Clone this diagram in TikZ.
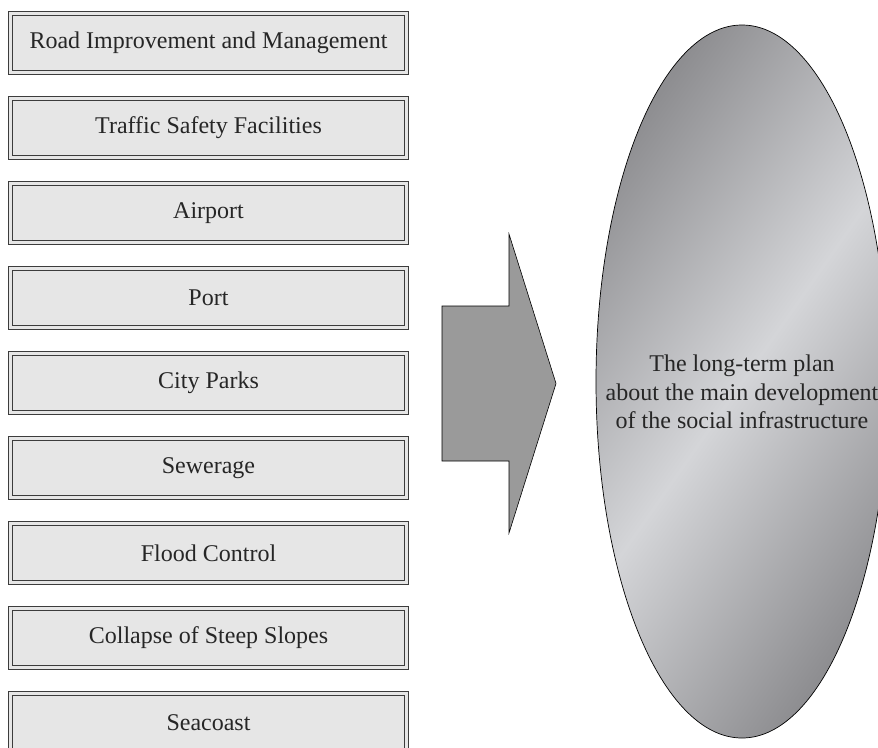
\documentclass[tikz,border=0pt]{standalone}
\usepackage{fontspec}
\setmainfont{Liberation Serif}
\usetikzlibrary{positioning,shapes.geometric}

\definecolor{boxfill}{HTML}{E6E6E6}
\definecolor{boxline}{HTML}{3C3C3C}
\definecolor{arrowgray}{HTML}{9A9A9A}
\definecolor{ovaldark}{HTML}{8E8E91}
\definecolor{ovallight}{HTML}{D4D5D8}
\definecolor{txtgray}{HTML}{262626}

\begin{document}
\begin{tikzpicture}[
    x=1pt, y=-1pt,
    node distance=26pt,
    every node/.style={font=\fontsize{24}{28.5}\selectfont, text=txtgray},
    item/.style={draw=boxline, line width=1pt, double=boxfill,
      double distance=3.5pt, fill=boxfill, minimum width=396pt,
      minimum height=59pt, inner sep=0pt, outer sep=0pt},
    plan/.style={ellipse, draw=black, line width=0.7pt, minimum width=292pt,
      minimum height=713pt, inner sep=0pt,
      top color=ovaldark, bottom color=ovaldark, middle color=ovallight,
      shading angle=55},
    bigarrow/.style={draw=black, line width=0.6pt, fill=arrowgray}
    ]
    \clip (0,0) rectangle (878,747);
    \node[item] (road) at (208.5,43) {Road Improvement and Management};
    \node[item, below=of road] (safety) {Traffic Safety Facilities};
    \node[item, below=of safety] (airport) {Airport};
    \node[item, below=of airport] (port) {Port};
    \node[item, below=of port] (parks) {City Parks};
    \node[item, below=of parks] (sewerage) {Sewerage};
    \node[item, below=of sewerage] (flood) {Flood Control};
    \node[item, below=of flood] (slopes) {Collapse of Steep Slopes};
    \node[item, below=of slopes] (seacoast) {Seacoast};
    \draw[bigarrow] (442,306) -- (509,306) -- (509,234) -- (556,383.5)
      -- (509,533) -- (509,461) -- (442,461) -- cycle;
    \node[plan] (longterm) at (742,381.5) {};
    \node[align=center, yshift=-10.5pt] (plantext) at (longterm.center)
      {The long-term plan\\about the main development\\of the social infrastructure};
  \end{tikzpicture}
\end{document}
